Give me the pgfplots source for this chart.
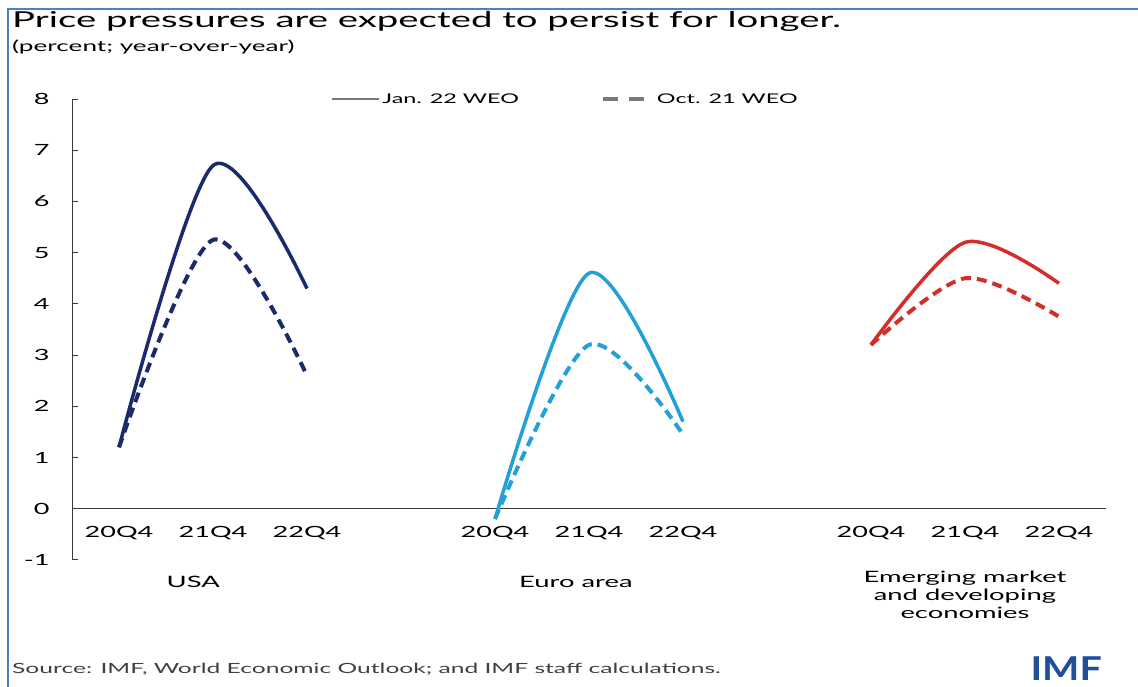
\documentclass[border=0pt]{standalone}
\usepackage{pgfplots}
\pgfplotsset{compat=1.18}
\usepackage{fontspec}
\setmainfont{Lato}
\newfontfamily\widefont{Lato}[FakeStretch=1.75]
\newfontfamily\imffont{Lato}[FakeStretch=1.2]
\definecolor{usa}{HTML}{1A2A6C}
\definecolor{euro}{HTML}{22A0DA}
\definecolor{emc}{HTML}{D32F2A}
\definecolor{framec}{HTML}{4F81BD}
\definecolor{imfc}{HTML}{1F4E9A}
\definecolor{leg}{HTML}{7A7A7A}
\definecolor{axc}{HTML}{3A3A3A}
\pgfplotsset{
  legsolid/.style={legend image code/.code={\draw[##1] (0bp,0bp) -- (47bp,0bp);}},
  legdash/.style={legend image code/.code={\draw[##1] (0bp,0bp) -- (41bp,0bp); \path (50bp,0bp);}},
}
\begin{document}
\begin{tikzpicture}
\useasboundingbox[fill=white] (0,0) rectangle (1138bp,687bp);
\draw[framec, line width=2.5bp] (8bp,0) -- (8bp,678bp) -- (1138bp,678bp);
\node[anchor=base west, inner sep=0, font=\widefont\fontsize{22}{26}\selectfont] at (12bp,659bp) {Price pressures are expected to persist for longer.};
\node[anchor=base west, inner sep=0, font=\widefont\fontsize{15}{18}\selectfont] at (12bp,635bp) {(percent; year-over-year)};
\node[anchor=base west, inner sep=0, font=\widefont\fontsize{14.1}{17}\selectfont, text=black!75] at (12bp,14bp) {Source: IMF, World Economic Outlook; and IMF staff calculations.};
\node[anchor=base east, inner sep=0, font=\imffont\bfseries\fontsize{33}{36}\selectfont, text=imfc] at (1102bp,7bp) {IMF};
\begin{axis}[
  at={(72bp,127bp)}, anchor=south west,
  scale only axis, width=1034bp, height=461bp,
  xmin=-0.5, xmax=10.5, ymin=-1, ymax=8,
  axis y line*=left, axis x line*=middle,
  axis line style={axc, line width=1bp},
  ytick={-1,0,...,8},
  xtick={0,1,2,4,5,6,8,9,10},
  xticklabels={20Q4,21Q4,22Q4,20Q4,21Q4,22Q4,20Q4,21Q4,22Q4},
  tick align=inside, major tick length=6bp,
  ytick style={axc, line width=1bp},
  xtick style={draw=none},
  /pgf/number format/assume math mode=true,
  yticklabel style={font=\widefont\fontsize{15.5}{19}\selectfont, anchor=east, xshift=-19bp},
  xticklabel style={font=\widefont\fontsize{15.5}{19}\selectfont, anchor=north, yshift=-14bp},
  clip=false,
  legend style={draw=none, fill=none, at={(axis cs:2.22,8)}, anchor=west,
    font=\widefont\fontsize{13.4}{16}\selectfont, legend columns=2,
    /tikz/every even column/.append style={column sep=80bp}},
  legend cell align=left,
]
\addlegendimage{leg, line width=2.5bp, legsolid}
\addlegendentry{Jan. 22 WEO}
\addlegendimage{leg, line width=4bp, dash pattern=on 15bp off 11bp, legdash}
\addlegendentry{Oct. 21 WEO}
% USA
\addplot[usa, line width=3.5bp, smooth, forget plot] coordinates {(0,1.2) (1,6.7) (2,4.3)};
\addplot[usa, line width=4bp, smooth, dash pattern=on 10bp off 6bp, forget plot] coordinates {(0,1.2) (1,5.25) (2,2.6)};
% Euro area
\addplot[euro, line width=3.5bp, smooth, forget plot] coordinates {(4,-0.2) (5,4.6) (6,1.7)};
\addplot[euro, line width=4bp, smooth, dash pattern=on 10bp off 6bp, forget plot] coordinates {(4,-0.2) (5,3.2) (6,1.45)};
% EMDEs
\addplot[emc, line width=3.5bp, smooth, forget plot] coordinates {(8,3.2) (9,5.2) (10,4.4)};
\addplot[emc, line width=4bp, smooth, dash pattern=on 10bp off 6bp, forget plot] coordinates {(8,3.2) (9,4.5) (10,3.75)};
\node[anchor=north, align=center, font=\widefont\fontsize{15.7}{18}\selectfont] at (axis cs:0.79,-1.25) {USA};
\node[anchor=north, align=center, font=\widefont\fontsize{15.7}{18}\selectfont] at (axis cs:4.86,-1.25) {Euro area};
\node[anchor=north, align=center, font=\widefont\fontsize{15.7}{18}\selectfont] at (axis cs:9,-1.15) {Emerging market\\and developing\\economies};
\end{axis}
\end{tikzpicture}
\end{document}
